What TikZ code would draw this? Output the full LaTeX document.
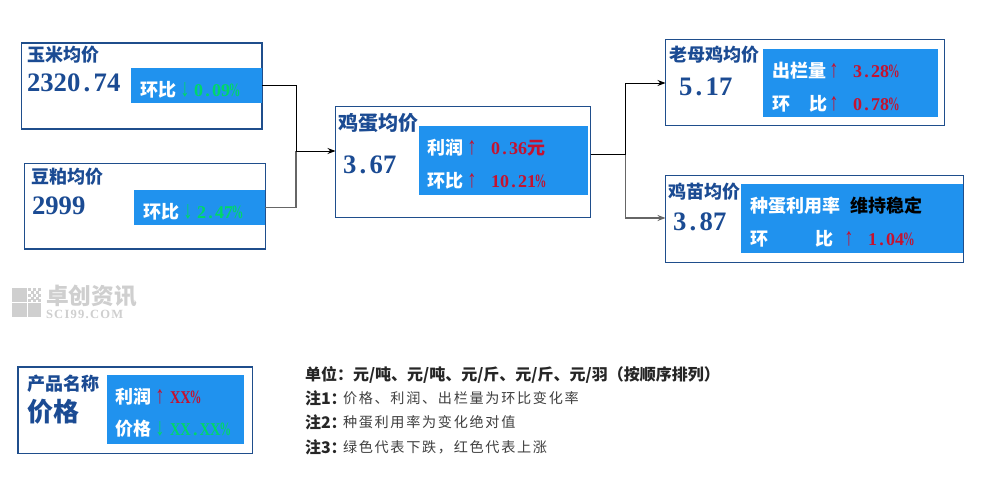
\documentclass[tikz,border=0pt]{standalone}
\usepackage{fontspec}
\usetikzlibrary{arrows.meta}
\setmainfont{Liberation Serif}
\newfontfamily\zh{Noto Sans CJK SC}
\newfontfamily\zhs[LetterSpace=12]{Noto Sans CJK SC}
\newfontfamily\wmlat[LetterSpace=10]{Liberation Serif}
\definecolor{navy}{HTML}{1B4B93}
\definecolor{frame}{HTML}{1F4E8C}
\definecolor{panel}{HTML}{2092EE}
\definecolor{upc}{HTML}{C5122F}
\definecolor{downc}{HTML}{00D868}
\definecolor{wm}{HTML}{CFCFCF}
\newcommand\fz[1]{\fontsize{#1pt}{#1pt}\selectfont}
\newcommand\dt{\makebox[.5em][c]{.}}
\newcommand\pc{\makebox[.52em][c]{\scalebox{.66}[1.05]{\%}}}
\newcommand\tall[1]{\scalebox{1.15}[1.55]{#1}}
\tikzset{
  x=0.75pt,y=-0.75pt,
  framebox/.style={draw=frame,line width=0.8pt,fill=white,inner sep=0,outer sep=0,anchor=north west},
  fillbox/.style={fill=panel,inner sep=0,outer sep=0,anchor=north west},
  txt/.style={inner sep=0,outer sep=0,anchor=west},
  head/.style={txt,text=navy,font=\zh\bfseries\fz{13.5}},
  val/.style={txt,text=navy,font=\bfseries\fz{20}},
  lab/.style={txt,text=white,font=\zh\bfseries\fz{13.5}},
  upn/.style={txt,text=upc,font=\bfseries\fz{13.5}},
  dnn/.style={txt,text=downc,font=\bfseries\fz{13.5}},
  uparr/.style={anchor=center,inner sep=0,outer sep=0,text=upc,font=\bfseries\fz{12}},
  dnarr/.style={anchor=center,inner sep=0,outer sep=0,text=downc,font=\bfseries\fz{12}},
  noteb/.style={txt,text=black!85,font=\zh\bfseries\fz{12}},
  notet/.style={txt,text=black!75,font=\zhs\fz{10.6}},
  linkb/.style={draw=black,line width=0.75pt},
  linkg/.style={draw=black!60,line width=1pt},
  tip/.style={-{Stealth[length=6pt,width=4.5pt]}},
  sq/.style={fill=wm,draw=none},
}
\newcommand\pbox[6]{\node[#1,minimum width={(#5-#3)*0.75pt},minimum height={(#6-#4)*0.75pt}] (#2) at (#3,#4) {};}
\begin{document}
\begin{tikzpicture}
\useasboundingbox[fill=white] (0,0) rectangle (987,478);
% frames
\pbox{framebox}{corn}{21.5}{43}{262}{129}
\pbox{framebox}{soy}{24.5}{163.5}{265.5}{249}
\pbox{framebox}{egg}{335.5}{106.5}{590.5}{217.5}
\pbox{framebox}{hen}{665.5}{39.5}{944.5}{125.5}
\pbox{framebox}{chick}{665.5}{175.5}{963.5}{262.5}
\pbox{framebox}{legend}{18}{367}{252.5}{453.5}
% panels
\pbox{fillbox}{cornp}{131}{68}{262}{103}
\pbox{fillbox}{soyp}{134}{190}{265}{225}
\pbox{fillbox}{eggp}{419}{126}{588}{195}
\pbox{fillbox}{henp}{763}{49}{938}{117}
\pbox{fillbox}{chickp}{741}{184}{963}{253}
\pbox{fillbox}{legp}{107}{375}{244}{444}
% junctions
\coordinate (j1) at (296,151);
\coordinate (j2) at (625.5,154.5);
% connectors
\draw[linkg] (soyp.east) -| (j1);
\draw[linkb] (cornp.east) -| (j1);
\draw[linkb,tip] (j1) -- (egg.west |- j1);
\draw[linkb] (egg.east |- j2) -- (j2);
\draw[linkb,tip] (j2) |- (hen.west |- 0,83);
\draw[linkg,tip] (j2) |- (chick.west |- 0,218);
% corn
\node[head] (t1) at (27,55) {玉米均价};
\node[val] (t2) at (27,83) {2320\dt74};
\node[lab] (t3) at (140,90) {环比};
\node[dnarr] (t4) at (185,90) {\tall{↓}};
\node[dnn] (t5) at (194,90) {0\dt09\pc};
% soy
\node[head] (t6) at (31,177) {豆粕均价};
\node[val] (t7) at (32,206) {2999};
\node[lab] (t8) at (143,212) {环比};
\node[dnarr] (t9) at (188,212) {\tall{↓}};
\node[dnn] (t10) at (197,212) {2\dt47\pc};
% egg
\node[head,font=\zh\bfseries\fz{15}] (t11) at (338,123) {鸡蛋均价};
\node[val] (t12) at (343,165) {3\dt67};
\node[lab] (t13) at (427,148) {利润};
\node[uparr] (t14) at (472,148) {\tall{↑}};
\node[upn] (t15) at (491,148) {0\dt36{\zh\bfseries 元}};
\node[lab] (t16) at (427,181) {环比};
\node[uparr] (t17) at (472,181) {\tall{↑}};
\node[upn] (t18) at (491,181) {10\dt21\pc};
% hen
\node[head] (t19) at (669,55) {老母鸡均价};
\node[val] (t20) at (679,87) {5\dt17};
\node[lab] (t21) at (772,71) {出栏量};
\node[uparr] (t22) at (834,71) {\tall{↑}};
\node[upn] (t23) at (853,71) {3\dt28\pc};
\node[lab] (t24) at (772,104) {环};
\node[lab] (t25) at (809,104) {比};
\node[uparr] (t26) at (834,104) {\tall{↑}};
\node[upn] (t27) at (853,104) {0\dt78\pc};
% chick
\node[head] (t28) at (668,192) {鸡苗均价};
\node[val] (t29) at (673,222) {3\dt87};
\node[lab] (t30) at (750,206) {种蛋利用率};
\node[lab,text=black] (t31) at (850,206) {维持稳定};
\node[lab] (t32) at (750,239) {环};
\node[lab] (t33) at (815,239) {比};
\node[uparr] (t34) at (849,239) {\tall{↑}};
\node[upn] (t35) at (868,239) {1\dt04\pc};
% legend
\node[head] (t36) at (27,384) {产品名称};
\node[head,font=\zh\bfseries\fz{19.5}] (t37) at (27,412) {价格};
\node[lab] (t38) at (115,397) {利润};
\node[uparr] (t39) at (160,397) {\tall{↑}};
\node[upn] (t40) at (170,397) {\scalebox{.8}[1]{XX}\pc};
\node[lab] (t41) at (115,429) {价格};
\node[dnarr] (t42) at (160,429) {\tall{↓}};
\node[dnn] (t43) at (170,429) {\scalebox{.8}[1]{XX}\dt\scalebox{.8}[1]{XX}\pc};
% notes
\node[noteb] (n0) at (305,375) {单位：元/吨、元/吨、元/斤、元/斤、元/羽（按顺序排列）};
\node[noteb] (n1) at (305,398) {注1：};
\node[notet] (n1t) at (343,398) {价格、利润、出栏量为环比变化率};
\node[noteb] (n2) at (305,422) {注2：};
\node[notet] (n2t) at (343,422) {种蛋利用率为变化绝对值};
\node[noteb] (n3) at (305,447) {注3：};
\node[notet] (n3t) at (343,447) {绿色代表下跌，红色代表上涨};
% watermark
\fill[sq] (12,288) rectangle (27,302);
\fill[sq] (12,303) rectangle (27,317);
\fill[sq] (28,303) rectangle (41,317);
\foreach \a/\b in {28/288,33/288,38/288,31/291,36/291,28/294,33/294,38/294,31/297,36/297,28/299,33/299,38/299}
  \fill[sq] (\a,\b) rectangle ++(3,3);
\node[txt,text=wm,font=\zh\bfseries\fz{17}] (w1) at (46,296) {卓创资讯};
\node[txt,text=wm,font=\wmlat\bfseries\fz{9.4}] (w2) at (46,314) {SCI99.COM};
\end{tikzpicture}
\end{document}
